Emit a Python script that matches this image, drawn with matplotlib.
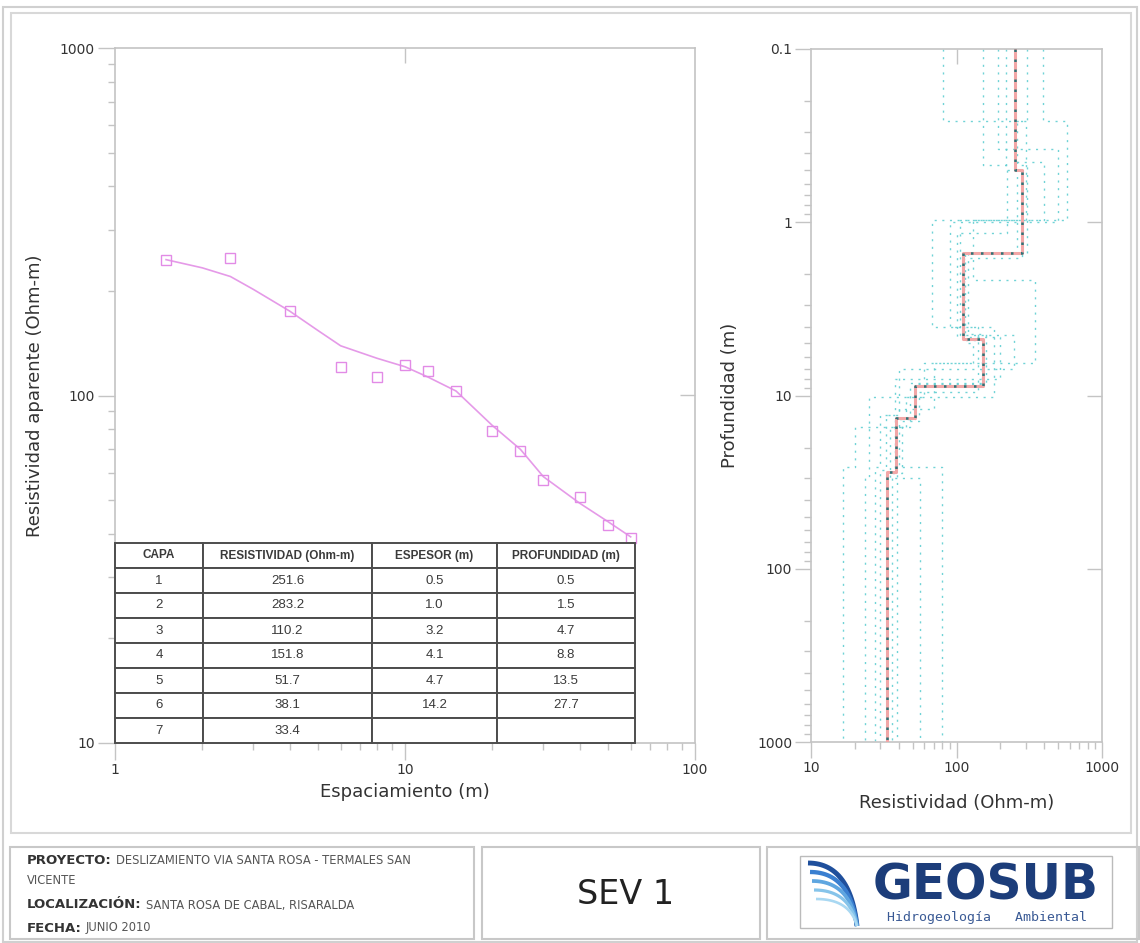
import numpy as np
import matplotlib
matplotlib.use('Agg')
import matplotlib.pyplot as plt
from matplotlib.patches import Rectangle
from matplotlib.ticker import LogLocator, NullFormatter

# ---------------- data ----------------
ab2 = [1.5, 2.5, 4, 6, 8, 10, 12, 15, 20, 25, 30, 40, 50, 60]
rho_obs = [246, 249, 175, 121, 113, 122, 118, 103, 79, 69, 57, 51, 42.3, 38.8]

curve_ab2 = [1.5, 2, 2.5, 3, 4, 5, 6, 8, 10, 12, 15, 20, 25, 30, 40, 50, 60]
rho_calc = [246, 233, 220, 202, 175, 154, 139, 128, 121, 113, 103, 82, 70, 58.4, 49, 43.4, 39.2]

capa = ['1', '2', '3', '4', '5', '6', '7']
layer_rho = [251.6, 283.2, 110.2, 151.8, 51.7, 38.1, 33.4]
layer_esp = [0.5, 1.0, 3.2, 4.1, 4.7, 14.2]
layer_prof = [0.5, 1.5, 4.7, 8.8, 13.5, 27.7]
table_header = ['CAPA', 'RESISTIVIDAD (Ohm-m)', 'ESPESOR (m)', 'PROFUNDIDAD (m)']

# equivalent models (dotted)
equiv_rho = [
    [81, 300, 68, 180, 45, 20, 16.5],
    [394, 575, 130, 345, 60, 25, 23.5],
    [152, 223, 100, 200, 38, 30, 27.5],
    [192, 500, 90, 140, 55, 42, 38.9],
    [253, 305, 120, 160, 48, 35, 56],
    [305, 260, 115, 130, 70, 40, 80],
    [253, 400, 105, 250, 40, 33, 30],
    [220, 283, 112, 150, 52, 38, 36],
]
equiv_prof = [
    [0.26, 0.97, 4.0, 10.2, 15.2, 26],
    [0.26, 0.97, 2.15, 6.5, 10.2, 30],
    [0.47, 1.15, 4.6, 8.0, 13, 26],
    [0.38, 1.0, 4.0, 9.5, 14, 28],
    [0.47, 1.5, 4.4, 8.5, 15.2, 30],
    [0.26, 1.5, 5.0, 6.5, 12, 26],
    [0.45, 0.97, 4.5, 7.0, 13, 27],
    [0.5, 1.6, 4.8, 8.6, 13.6, 28],
]

left_xticks = [1, 10, 100]
left_yticks = [10, 100, 1000]
right_xticks = [10, 100, 1000]
right_yticks = [0.1, 1, 10, 100, 1000]
right_ytick_labels = ['0.1', '1', '10', '100', '1000']

W, H = 1140, 943
fig = plt.figure(figsize=(W / 100, H / 100), dpi=100)
fig.patch.set_facecolor('white')

SPINE = '#c4c4c4'
TXT = '#333333'

# ------------- overlay for frames / title block -------------
ov = fig.add_axes([0, 0, 1, 1], zorder=-5)
ov.set_xlim(0, W)
ov.set_ylim(H, 0)
ov.axis('off')
ov.add_patch(Rectangle((3, 7), 1134, 935, fill=False, ec='#d0d0d0', lw=1.5))
ov.add_patch(Rectangle((11, 13), 1120, 820, fill=False, ec='#d8d8d8', lw=1.5))
for (x0, w) in [(10, 464), (482, 278), (767, 372)]:
    ov.add_patch(Rectangle((x0, 847), w, 92, fill=False, ec='#c8c8c8', lw=1.5))


def label_value(y, lab, val):
    t = ov.text(27, y, lab, fontweight='bold', fontsize=9.5, va='center',
                ha='left', color='#333333')
    if val:
        ov.annotate(val, xy=(1, 0.5), xycoords=t, xytext=(3, 0),
                    textcoords='offset points', va='center', ha='left',
                    fontsize=8.3, color='#555555')
    return t


label_value(860, 'PROYECTO:', 'DESLIZAMIENTO VIA SANTA ROSA - TERMALES SAN')
ov.text(27, 880, 'VICENTE', fontsize=8.3, va='center', ha='left', color='#555555')
label_value(905, 'LOCALIZACIÓN:', 'SANTA ROSA DE CABAL, RISARALDA')
label_value(928, 'FECHA:', 'JUNIO 2010')

ov.text(626, 895, 'SEV 1', fontsize=24, ha='center', va='center', color='#222222')

# logo
ov.add_patch(Rectangle((800, 856), 312, 72, fill=False, ec='#bbbbbb', lw=1))
tt = np.linspace(0, 1, 30)
cols = ['#1f4f9c', '#3a7fd0', '#5fa6e0', '#86c4ea', '#a9d8f2']
for k, c in enumerate(cols):
    y0 = 863 + 9 * k
    p0 = np.array([808 + 2 * k, y0]); p1 = np.array([850, y0]); p2 = np.array([857, 926])
    pts = ((1 - tt)[:, None] ** 2) * p0 + (2 * (1 - tt) * tt)[:, None] * p1 + (tt ** 2)[:, None] * p2
    ov.plot(pts[:, 0], pts[:, 1], color=c, lw=3.5 - 0.4 * k, solid_capstyle='butt')
ov.text(986, 886, 'GEOSUB', fontsize=35, fontweight='bold', ha='center',
        va='center', color='#1c3d7a')
ov.text(987, 918, 'Hidrogeología   Ambiental', fontsize=9.5, family='DejaVu Sans Mono',
        ha='center', va='center', color='#3a5a95')

# ---------------- left axes ----------------
ax1 = fig.add_axes([115 / W, 1 - 743 / H, 580 / W, 695 / H])
ax1.set_xscale('log')
ax1.set_yscale('log')
ax1.set_xlim(1, 100)
ax1.set_ylim(10, 1000)

ax1.plot(curve_ab2, rho_calc, color='#e59ae8', lw=1.2, zorder=3)
ax1.plot(ab2, rho_obs, ls='none', marker='s', ms=6.5, mfc='none',
         mec='#e28be6', mew=1.0, zorder=4)

ax1.set_xticks(left_xticks, labels=[str(v) for v in left_xticks])
ax1.set_yticks(left_yticks, labels=[str(v) for v in left_yticks])
for a in (ax1.xaxis, ax1.yaxis):
    a.set_minor_locator(LogLocator(base=10, subs=np.arange(2, 10)))
    a.set_minor_formatter(NullFormatter())
ax1.tick_params(which='major', direction='out', length=12.5, width=1,
                color=SPINE, labelsize=10, labelcolor=TXT, pad=2)
ax1.tick_params(which='minor', direction='out', length=5, width=1, color=SPINE)
for s in ax1.spines.values():
    s.set_color(SPINE)
    s.set_linewidth(1.2)
ax1.set_xlabel('Espaciamiento (m)', fontsize=13, color=TXT, labelpad=4)
ax1.set_ylabel('Resistividad aparente (Ohm-m)', fontsize=13, color=TXT, labelpad=11)

sx1 = ax1.secondary_xaxis('top')
sx1.set_xticks([10], labels=[''])
sx1.tick_params(direction='in', length=11, color=SPINE, width=1)
sx1.xaxis.set_minor_locator(plt.NullLocator())
sx1.spines['top'].set_visible(False)
sy1 = ax1.secondary_yaxis('right')
sy1.set_yticks([100], labels=[''])
sy1.tick_params(direction='in', length=11, color=SPINE, width=1)
sy1.yaxis.set_minor_locator(plt.NullLocator())
sy1.spines['right'].set_visible(False)

# table
rows = []
for i in range(len(capa)):
    rows.append([capa[i], f'{layer_rho[i]:.1f}',
                 f'{layer_esp[i]:.1f}' if i < len(layer_esp) else '',
                 f'{layer_prof[i]:.1f}' if i < len(layer_prof) else ''])
cw = np.array([88, 169, 125, 138], float)
tab = ax1.table(cellText=rows, colLabels=table_header, colWidths=list(cw / cw.sum()),
                cellLoc='center', bbox=[0, 0, 520 / 580, 200 / 695], zorder=5)
tab.auto_set_font_size(False)
for (r, c), cell in tab.get_celld().items():
    cell.set_edgecolor('#4d4d4d')
    cell.set_linewidth(1.4)
    cell.set_facecolor('white')
    txt = cell.get_text()
    txt.set_color('#3a3a3a')
    txt.set_family('Liberation Sans')
    if r == 0:
        txt.set_fontweight('bold')
        txt.set_fontsize(8.5)
    else:
        txt.set_fontsize(9.5)

# ---------------- right axes ----------------
ax2 = fig.add_axes([811 / W, 1 - 742 / H, 291 / W, 693 / H])
ax2.set_xscale('log')
ax2.set_yscale('log')
ax2.set_xlim(10, 1000)
ax2.set_ylim(1000, 0.1)


def step_xy(rhos, depths, top=0.1, bottom=1000):
    xs, ys = [], []
    bounds = [top] + list(depths) + [bottom]
    for i, r in enumerate(rhos):
        xs += [r, r]
        ys += [bounds[i], bounds[i + 1]]
    return xs, ys


for rr, pp in zip(equiv_rho, equiv_prof):
    xs, ys = step_xy(rr, pp)
    ax2.plot(xs, ys, color='#62cfd2', lw=1.0, ls=(0, (1.5, 4)), alpha=0.9, zorder=2)

xs, ys = step_xy(layer_rho, layer_prof)
ax2.plot(xs, ys, color='#f2a7a7', lw=2.2, zorder=3)
ax2.plot(xs, ys, color='#2d7478', lw=1.8, ls=(0, (1, 3)), zorder=4)

ax2.set_xticks(right_xticks, labels=[str(v) for v in right_xticks])
ax2.set_yticks(right_yticks, labels=right_ytick_labels)
for a in (ax2.xaxis, ax2.yaxis):
    a.set_minor_locator(LogLocator(base=10, subs=np.arange(2, 10)))
    a.set_minor_formatter(NullFormatter())
ax2.tick_params(which='major', direction='out', length=11.5, width=1,
                color=SPINE, labelsize=10, labelcolor=TXT, pad=2)
ax2.tick_params(which='minor', direction='out', length=5, width=1, color=SPINE)
for s in ax2.spines.values():
    s.set_color(SPINE)
    s.set_linewidth(1.2)
ax2.set_xlabel('Resistividad (Ohm-m)', fontsize=13, color=TXT, labelpad=14)
ax2.set_ylabel('Profundidad (m)', fontsize=13, color=TXT, labelpad=13)

sx2 = ax2.secondary_xaxis('top')
sx2.set_xticks([100], labels=[''])
sx2.tick_params(direction='in', length=11, color=SPINE, width=1)
sx2.xaxis.set_minor_locator(plt.NullLocator())
sx2.spines['top'].set_visible(False)
sy2 = ax2.secondary_yaxis('right')
sy2.set_yticks([1, 10, 100], labels=['', '', ''])
sy2.tick_params(direction='in', length=11, color=SPINE, width=1)
sy2.yaxis.set_minor_locator(plt.NullLocator())
sy2.spines['right'].set_visible(False)

fig.savefig('out.png', dpi=100, facecolor='white')
